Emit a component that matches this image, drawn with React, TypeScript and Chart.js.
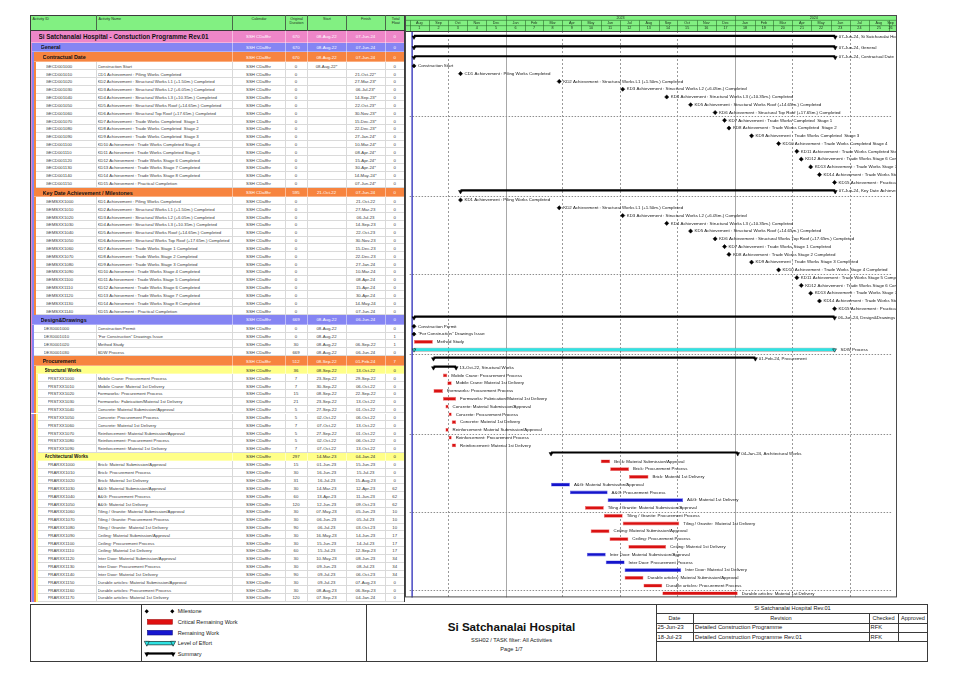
import React, { useEffect, useRef } from "react";
import { Chart, registerables } from "chart.js";

Chart.register(...registerables);

const FONT = '"Liberation Sans", Arial, Helvetica, sans-serif';

/* ---------------- data ---------------- */
const activityIds = [
  "", "", "",
  "GECD001000", "GECD001010", "GECD001020", "GECD001030", "GECD001040", "GECD001050", "GECD001060", "GECD001070",
  "GECD001080", "GECD001090", "GECD001100", "GECD001110", "GECD001120", "GECD001130", "GECD001140", "GECD001150",
  "",
  "GEMSXX1000", "GEMSXX1010", "GEMSXX1020", "GEMSXX1030", "GEMSXX1040", "GEMSXX1050", "GEMSXX1060", "GEMSXX1070",
  "GEMSXX1080", "GEMSXX1090", "GEMSXX1100", "GEMSXX1110", "GEMSXX1120", "GEMSXX1130", "GEMSXX1140",
  "",
  "DEX0001000", "DEX0001010", "DEX0001020", "DEX0001030",
  "", "",
  "PRSTXX1000", "PRSTXX1010", "PRSTXX1020", "PRSTXX1030", "PRSTXX1040", "PRSTXX1050", "PRSTXX1060", "PRSTXX1070",
  "PRSTXX1080", "PRSTXX1090",
  "",
  "PRARXX1000", "PRARXX1010", "PRARXX1020", "PRARXX1030", "PRARXX1040", "PRARXX1050", "PRARXX1060", "PRARXX1070",
  "PRARXX1080", "PRARXX1090", "PRARXX1100", "PRARXX1110", "PRARXX1120", "PRARXX1130", "PRARXX1140", "PRARXX1150",
  "PRARXX1160", "PRARXX1170",
];

const activityNames = [
  "Si Satchanalai Hospital - Constuction Programme Rev.01",
  "General",
  "Contractual Date",
  "Construction Start",
  "CD1 Achievement : Piling Works Completed",
  "KD2 Achievement : Structural Works L1 (+1.50m.) Completed",
  "KD3 Achievement : Structural Works L2 (+6.05m.) Completed",
  "KD4 Achievement : Structural Works L3 (+10.35m.) Completed",
  "KD5 Achievement : Structural Works Roof (+14.65m.) Completed",
  "KD6 Achievement : Structural Top Roof (+17.65m.) Completed",
  "KD7 Achievement : Trade Works Completed  Stage 1",
  "KD8 Achievement : Trade Works Completed  Stage 2",
  "KD9 Achievement : Trade Works Completed  Stage 3",
  "KD10 Achievement : Trade Works Completed Stage 4",
  "KD11 Achievement : Trade Works Completed Stage 5",
  "KD12 Achievement : Trade Works Stage 6 Completed",
  "KD13 Achievement : Trade Works Stage 7 Completed",
  "KD14 Achievement : Trade Works Stage 8 Completed",
  "KD15 Achievement : Practical Completion",
  "Key Date Achievement / Milestones",
  "KD1 Achievement : Piling Works Completed",
  "KD2 Achievement : Structural Works L1 (+1.50m.) Completed",
  "KD3 Achievement : Structural Works L2 (+6.05m.) Completed",
  "KD4 Achievement : Structural Works L3 (+10.35m.) Completed",
  "KD5 Achievement : Structural Works Roof (+14.65m.) Completed",
  "KD6 Achievement : Structural Works Top Roof (+17.65m.) Completed",
  "KD7 Achievement : Trade Works Stage 1 Completed",
  "KD8 Achievement : Trade Works Stage 2 Completed",
  "KD9 Achievement : Trade Works Stage 3 Completed",
  "KD10 Achievement : Trade Works Stage 4 Completed",
  "KD11 Achievement : Trade Works Stage 5 Completed",
  "KD12 Achievement : Trade Works Stage 6 Completed",
  "KD13 Achievement : Trade Works Stage 7 Completed",
  "KD14 Achievement : Trade Works Stage 8 Completed",
  "KD15 Achievement : Practical Completion",
  "Design&Drawings",
  "Construction Permit",
  "\"For Construction\" Drawings Issue",
  "Method Study",
  "SDW Process",
  "Procurement",
  "Structural Works",
  "Mobile Crane: Procurement Process",
  "Mobile Crane: Material 1st Delivery",
  "Formworks: Procurement Process",
  "Formworks: Fabrication/Material 1st Delivery",
  "Concrete: Material Submission/Approval",
  "Concrete: Procurement Process",
  "Concrete: Material 1st Delivery",
  "Reinforcement: Material Submission/Approval",
  "Reinforcement: Procurement Process",
  "Reinforcement: Material 1st Delivery",
  "Architectural Works",
  "Brick: Material Submission/Approval",
  "Brick: Procurement Process",
  "Brick: Material 1st Delivery",
  "A&G: Material Submission/Approval",
  "A&G: Procurement Process",
  "A&G: Material 1st Delivery",
  "Tiling / Granite: Material Submission/Approval",
  "Tiling / Granite: Procurement Process",
  "Tiling / Granite:  Material 1st Delivery",
  "Ceiling: Material Submission/Approval",
  "Ceiling: Procurement Process",
  "Ceiling: Material 1st Delivery",
  "Inter Door: Material Submission/Approval",
  "Inter Door: Procurement Process",
  "Inter Door: Material 1st Delivery",
  "Durable articles: Material Submission/Approval",
  "Durable articles: Procurement Process",
  "Durable articles: Material 1st Delivery",
];

// 1 = project, 2..4 = WBS levels, 0 = activity
const rowLevels = [
  1, 2, 3,
  0, 0, 0, 0, 0, 0, 0, 0, 0, 0, 0, 0, 0, 0, 0, 0,
  3,
  0, 0, 0, 0, 0, 0, 0, 0, 0, 0, 0, 0, 0, 0, 0,
  2,
  0, 0, 0, 0,
  3, 4,
  0, 0, 0, 0, 0, 0, 0, 0, 0, 0,
  4,
  0, 0, 0, 0, 0, 0, 0, 0, 0, 0, 0, 0, 0, 0, 0, 0, 0, 0,
];

const S = "summary", M = "milestone", C = "critical", R = "remaining", L = "effort";
const barTypes = [
  S, S, S,
  M, M, M, M, M, M, M, M, M, M, M, M, M, M, M, M,
  S,
  M, M, M, M, M, M, M, M, M, M, M, M, M, M, M,
  S,
  M, M, C, L,
  S, S,
  C, C, C, C, C, C, C, C, C, C,
  S,
  C, C, C, R, R, R, C, C, C, C, C, C, R, R, R, C, C, C,
];

const calendarName = "SSH CDa8hr";

const origDurations = [
  670, 670, 670,
  0, 0, 0, 0, 0, 0, 0, 0, 0, 0, 0, 0, 0, 0, 0, 0,
  595,
  0, 0, 0, 0, 0, 0, 0, 0, 0, 0, 0, 0, 0, 0, 0,
  669,
  0, 0, 30, 669,
  512, 36,
  7, 7, 15, 21, 5, 5, 7, 5, 5, 7,
  297,
  15, 30, 31, 30, 60, 120, 30, 30, 90, 30, 30, 60, 30, 30, 90, 30, 30, 120,
];

const startDates = [
  "08-Aug-22", "08-Aug-22", "08-Aug-22",
  "08-Aug-22*", "", "", "", "", "", "", "", "", "", "", "", "", "", "", "",
  "21-Oct-22",
  "", "", "", "", "", "", "", "", "", "", "", "", "", "", "",
  "08-Aug-22",
  "08-Aug-22", "08-Aug-22", "08-Aug-22", "08-Aug-22",
  "08-Sep-22", "08-Sep-22",
  "23-Sep-22", "30-Sep-22", "08-Sep-22", "23-Sep-22", "27-Sep-22", "02-Oct-22", "07-Oct-22", "27-Sep-22", "02-Oct-22", "07-Oct-22",
  "14-Mar-23",
  "01-Jun-23", "16-Jun-23", "16-Jul-23", "14-Mar-23", "13-Apr-23", "12-Jun-23", "07-May-23", "06-Jun-23", "06-Jul-23",
  "16-May-23", "15-Jun-23", "15-Jul-23", "10-May-23", "09-Jun-23", "09-Jul-23", "09-Jul-23", "08-Aug-23", "07-Sep-23",
];

const finishDates = [
  "07-Jun-24", "07-Jun-24", "07-Jun-24",
  "", "21-Oct-22*", "27-Mar-23*", "06-Jul-23*", "14-Sep-23*", "22-Oct-23*", "30-Nov-23*", "15-Dec-23*",
  "22-Dec-23*", "27-Jan-24*", "10-Mar-24*", "08-Apr-24*", "15-Apr-24*", "30-Apr-24*", "14-May-24*", "07-Jun-24*",
  "07-Jun-24",
  "21-Oct-22", "27-Mar-23", "06-Jul-23", "14-Sep-23", "22-Oct-23", "30-Nov-23", "15-Dec-23", "22-Dec-23",
  "27-Jan-24", "10-Mar-24", "08-Apr-24", "15-Apr-24", "30-Apr-24", "14-May-24", "07-Jun-24",
  "06-Jun-24",
  "", "", "06-Sep-22", "06-Jun-24",
  "01-Feb-24", "13-Oct-22",
  "29-Sep-22", "06-Oct-22", "22-Sep-22", "13-Oct-22", "01-Oct-22", "06-Oct-22", "13-Oct-22", "01-Oct-22", "06-Oct-22", "13-Oct-22",
  "04-Jan-24",
  "15-Jun-23", "15-Jul-23", "15-Aug-23", "12-Apr-23", "11-Jun-23", "09-Oct-23", "05-Jun-23", "05-Jul-23", "03-Oct-23",
  "14-Jun-23", "14-Jul-23", "12-Sep-23", "08-Jun-23", "08-Jul-23", "06-Oct-23", "07-Aug-23", "06-Sep-23", "04-Jan-24",
];

const totalFloats = [
  0, 0, 0,
  0, 0, 0, 0, 0, 0, 0, 0, 0, 0, 0, 0, 0, 0, 0, 0,
  0,
  0, 0, 0, 0, 0, 0, 0, 0, 0, 0, 0, 0, 0, 0, 0,
  0,
  0, 1, 1, 0,
  7, 0,
  0, 0, 0, 0, 0, 0, 0, 0, 0, 0,
  0,
  0, 0, 0, 62, 62, 62, 10, 10, 10, 17, 17, 17, 34, 34, 34, 0, 0, 0,
];

const tableColumns = ["Activity ID", "Activity Name", "Calendar", "Original Duration", "Start", "Finish", "Total Float"];
const monthNames = ["Jan", "Feb", "Mar", "Apr", "May", "Jun", "Jul", "Aug", "Sep", "Oct", "Nov", "Dec"];
const timelineStart = "01-Aug-22";
const timelineEnd = "07-Sep-24";
const dataDate = "05-Aug-22";

const legendLabels = ["Milestone", "Critical Remaining Work", "Remaining Work", "Level of Effort", "Summary"];
const projectTitle = "Si Satchanalai Hospital";
const layoutSubtitle = "SSH02 / TASK filter: All Activities";
const pageLabel = "Page 1/7";
const revisionHeader = "Si Satchanalai Hospital Rev.01";
const revisionColumns = ["Date", "Revision", "Checked", "Approved"];
const revisionDates = ["25-Jun-23", "18-Jul-23"];
const revisionTexts = ["Detailed Construction Programme", "Detailed Construction Programme Rev.01"];
const revisionChecked = ["RFK", "RFK"];

/* ---------------- helpers ---------------- */
const MONTH_INDEX: Record<string, number> = {};
monthNames.forEach((m, i) => (MONTH_INDEX[m] = i));
const DAY = 86400000;
function toUTC(s: string) {
  const [d, m, y] = s.replace("*", "").trim().split("-");
  return Date.UTC(2000 + Number(y), MONTH_INDEX[m], Number(d));
}
const originUTC = toUTC(timelineStart);
const dayOf = (s: string) => (toUTC(s) - originUTC) / DAY;
const X_MAX = dayOf(timelineEnd);

/* ---------------- layout / style ---------------- */
const ROW_H: Record<number, number> = { 0: 7.83, 1: 11.5, 2: 9.9, 3: 9.9, 4: 8.3 };
const LEVEL_COLORS: Record<number, string> = { 1: "#EE86C8", 2: "#8585F3", 3: "#F7843F", 4: "#FFFF88" };
const rowTop: number[] = [];
let acc = 0;
rowLevels.forEach((l) => {
  rowTop.push(acc);
  acc += ROW_H[l];
});
const HEAD_H = 16;
const CANVAS_W = 492;
const CANVAS_H = Math.round(HEAD_H + acc);
const Y_MAX = CANVAS_H - HEAD_H;
const rowMid = rowTop.map((t, i) => t + ROW_H[rowLevels[i]] / 2);

const rowAncestors: string[][] = [];
{
  const stack: string[] = [];
  rowLevels.forEach((l) => {
    if (l > 0) {
      stack.length = l - 1;
      rowAncestors.push(stack.slice());
      stack.push(LEVEL_COLORS[l]);
    } else rowAncestors.push(stack.slice());
  });
}

const COLX = [30, 96, 232, 285, 307, 346, 385, 404.5];
const TABLE_TOP = 31;
const GANTT_LEFT = 405;

/* ---------------- chart ---------------- */
function spanOf(i: number) {
  const s = startDates[i] ? dayOf(startDates[i]) : dayOf(finishDates[i]);
  const e = finishDates[i] ? dayOf(finishDates[i]) + 1 : s;
  return [s, e];
}
function milestoneAt(i: number) {
  return finishDates[i] ? dayOf(finishDates[i]) : dayOf(startDates[i]);
}
const idx = (t: string) => barTypes.map((b, i) => (b === t ? i : -1)).filter((i) => i >= 0);

function buildConfig() {
  const summaryRows = idx(S);
  const effortRows = idx(L);
  const barData = (t: string) => idx(t).map((i) => ({ x: spanOf(i), y: rowMid[i] }));

  const ganttPlugin = {
    id: "gantt",
    beforeDatasetsDraw(chart: any) {
      const { ctx, chartArea: a, scales } = chart;
      const xs = scales.x, ys = scales.y;
      ctx.save();
      // quarter & year lines
      const od = new Date(originUTC);
      for (let k = 1; ; k++) {
        const t = Date.UTC(od.getUTCFullYear(), od.getUTCMonth() + k, 1);
        const d = (t - originUTC) / DAY;
        if (d >= X_MAX) break;
        const mo = new Date(t).getUTCMonth();
        if (mo % 3 !== 0) continue;
        const px = Math.round(xs.getPixelForValue(d)) + 0.5;
        ctx.beginPath();
        ctx.strokeStyle = mo === 0 ? "#A8A8A8" : "#9A9A9A";
        ctx.lineWidth = 1;
        ctx.setLineDash(mo === 0 ? [] : [2, 2]);
        ctx.moveTo(px, a.top);
        ctx.lineTo(px, a.bottom);
        ctx.stroke();
      }
      // horizontal dotted lines every 10 rows
      ctx.setLineDash([1.5, 1.5]);
      ctx.strokeStyle = "#8E8E8E";
      for (let r = 10; r < rowTop.length; r += 10) {
        const py = Math.round(ys.getPixelForValue(rowTop[r])) + 0.5;
        ctx.beginPath();
        ctx.moveTo(a.left, py);
        ctx.lineTo(a.right, py);
        ctx.stroke();
      }
      ctx.setLineDash([]);
      // data date
      const dd = xs.getPixelForValue(dayOf(dataDate));
      ctx.strokeStyle = "#2B2BB8";
      ctx.lineWidth = 1.3;
      ctx.beginPath();
      ctx.moveTo(dd, a.top);
      ctx.lineTo(dd, a.bottom);
      ctx.stroke();
      ctx.restore();
    },
    afterDatasetsDraw(chart: any) {
      const { ctx, chartArea: a, scales } = chart;
      const xs = scales.x, ys = scales.y;
      ctx.save();
      // bar labels
      ctx.font = `4.4px ${FONT}`;
      ctx.textBaseline = "middle";
      ctx.fillStyle = "#141414";
      barTypes.forEach((t, i) => {
        const py = ys.getPixelForValue(rowMid[i]);
        let px: number, text: string;
        if (t === M) {
          px = xs.getPixelForValue(milestoneAt(i)) + 4;
          text = activityNames[i];
        } else if (t === S) {
          px = xs.getPixelForValue(spanOf(i)[1]) + 3.5;
          text = `${finishDates[i]}, ${activityNames[i]}`;
        } else {
          px = xs.getPixelForValue(spanOf(i)[1]) + (t === L ? 6 : 4);
          text = activityNames[i];
        }
        ctx.fillText(text, px, py);
      });

      // timescale header
      const w = chart.width;
      const h1 = HEAD_H / 3;
      ctx.fillStyle = "#82F082";
      ctx.fillRect(0, 0, w, HEAD_H);
      ctx.strokeStyle = "#2E6B2E";
      ctx.lineWidth = 0.6;
      ctx.beginPath();
      ctx.moveTo(0, h1); ctx.lineTo(w, h1);
      ctx.moveTo(0, 2 * h1); ctx.lineTo(w, 2 * h1);
      ctx.stroke();
      ctx.fillStyle = "#1C2A1C";
      ctx.textAlign = "center";
      ctx.font = `3.7px ${FONT}`;
      const od = new Date(originUTC);
      for (let k = 0; ; k++) {
        const t0 = Date.UTC(od.getUTCFullYear(), od.getUTCMonth() + k, 1);
        const t1 = Date.UTC(od.getUTCFullYear(), od.getUTCMonth() + k + 1, 1);
        const d0 = (t0 - originUTC) / DAY;
        if (d0 >= X_MAX) break;
        const d1 = Math.min((t1 - originUTC) / DAY, X_MAX);
        const p0 = xs.getPixelForValue(d0), p1 = xs.getPixelForValue(d1);
        const mo = new Date(t0).getUTCMonth();
        ctx.beginPath();
        ctx.moveTo(Math.round(p0) + 0.5, mo === 0 ? 0 : h1);
        ctx.lineTo(Math.round(p0) + 0.5, HEAD_H);
        ctx.stroke();
        ctx.fillText(monthNames[mo], (p0 + p1) / 2, h1 * 1.5);
        ctx.fillText(String(k + 1), (p0 + p1) / 2, h1 * 2.5);
        if (mo === 0) {
          const y1 = Math.min((Date.UTC(new Date(t0).getUTCFullYear() + 1, 0, 1) - originUTC) / DAY, X_MAX);
          ctx.fillText(String(new Date(t0).getUTCFullYear()), (p0 + xs.getPixelForValue(y1)) / 2, h1 * 0.5);
        }
      }
      ctx.strokeStyle = "#3A3A3A";
      ctx.lineWidth = 1;
      ctx.strokeRect(0.5, 0.5, w - 1, HEAD_H);
      ctx.strokeStyle = "#4A4A4A";
      ctx.strokeRect(0.5, 0.5, w - 1, a.bottom - 1);
      ctx.restore();
    },
  };

  return {
    type: "bar",
    data: {
      datasets: [
        {
          type: "bar",
          label: "Summary",
          data: summaryRows.map((i) => ({ x: spanOf(i), y: rowMid[i] - 0.9 })),
          backgroundColor: "#000000",
          maxBarThickness: 2.2,
          grouped: false,
          order: 2,
        },
        {
          type: "scatter",
          label: "Summary ends",
          data: summaryRows.flatMap((i) => spanOf(i).map((v) => ({ x: v, y: rowMid[i] + 0.4 }))),
          pointStyle: "triangle",
          rotation: 180,
          pointRadius: 2.3,
          pointBackgroundColor: "#000000",
          pointBorderColor: "#000000",
          pointBorderWidth: 0.5,
          order: 1,
        },
        {
          type: "bar",
          label: "Critical Remaining Work",
          data: barData(C),
          backgroundColor: "#DA1212",
          borderColor: "#F07474",
          borderWidth: 0.6,
          borderSkipped: false,
          maxBarThickness: 3.8,
          grouped: false,
          order: 2,
        },
        {
          type: "bar",
          label: "Remaining Work",
          data: barData(R),
          backgroundColor: "#1414CC",
          borderColor: "#5A5AE8",
          borderWidth: 0.6,
          borderSkipped: false,
          maxBarThickness: 3.8,
          grouped: false,
          order: 2,
        },
        {
          type: "bar",
          label: "Level of Effort",
          data: barData(L),
          backgroundColor: "#2FE3E3",
          borderColor: "#1A1A1A",
          borderWidth: 0.6,
          borderSkipped: false,
          maxBarThickness: 3.8,
          grouped: false,
          order: 2,
        },
        {
          type: "scatter",
          label: "Level of Effort ends",
          data: effortRows.flatMap((i) => spanOf(i).map((v) => ({ x: v, y: rowMid[i] + 0.3 }))),
          pointStyle: "triangle",
          rotation: 180,
          pointRadius: 2.2,
          pointBackgroundColor: "#2FE3E3",
          pointBorderColor: "#1A1A1A",
          pointBorderWidth: 0.6,
          order: 1,
        },
        {
          type: "scatter",
          label: "Milestone",
          data: idx(M).map((i) => ({ x: milestoneAt(i), y: rowMid[i] })),
          pointStyle: "rectRot",
          pointRadius: 2.1,
          pointBackgroundColor: "#000000",
          pointBorderColor: "#000000",
          pointBorderWidth: 0.5,
          order: 0,
        },
      ],
    },
    options: {
      animation: false,
      responsive: false,
      indexAxis: "y",
      events: [],
      layout: { padding: { top: HEAD_H, left: 0, right: 0, bottom: 0 } },
      plugins: { legend: { display: false }, tooltip: { enabled: false } },
      scales: {
        x: { type: "linear", min: 0, max: X_MAX, display: false, offset: false },
        y: { type: "linear", min: 0, max: Y_MAX, reverse: true, display: false, offset: false },
      },
    },
    plugins: [ganttPlugin],
  };
}

/* ---------------- components ---------------- */
const abs = (left: number, top: number, width: number, height: number, extra: any = {}) => ({
  position: "absolute" as const,
  left,
  top,
  width,
  height,
  boxSizing: "border-box" as const,
  ...extra,
});

function Cell(props: { left: number; width: number; text: any; align?: string; style?: any }) {
  const { left, width, text, align = "center", style = {} } = props;
  return (
    <div
      style={{
        position: "absolute",
        left,
        width,
        top: 0,
        height: "100%",
        display: "flex",
        alignItems: "center",
        justifyContent: align === "left" ? "flex-start" : "center",
        overflow: "hidden",
        whiteSpace: "pre",
        ...style,
      }}
    >
      {text}
    </div>
  );
}

function TableRow({ i }: { i: number }) {
  const lvl = rowLevels[i];
  const h = ROW_H[lvl];
  const anc = rowAncestors[i];
  const indent = 30 + 2 * anc.length;
  const isSummary = lvl > 0;
  const bg = isSummary ? LEVEL_COLORS[lvl] : "#FFFFFF";
  const valColor = lvl === 4 ? "#2A2A2A" : isSummary ? "#FFFFFF" : "#3A3A3A";
  const sepColor = isSummary ? "rgba(255,255,255,0.45)" : "#D9D9D9";
  const nameFont = lvl === 1 ? 6.3 : lvl === 4 ? 4.6 : 5.4;
  const valFont = 4.3;
  return (
    <div style={abs(0, TABLE_TOP + rowTop[i], 405, h)}>
      {anc.map((c, k) => (
        <div key={k} style={abs(30 + 2 * k, 0, 2, h, { background: c })} />
      ))}
      <div style={abs(indent, 0, COLX[7] - indent, h, { background: bg, borderBottom: `1px solid ${isSummary ? "rgba(255,255,255,0.35)" : "#DADADA"}` })} />
      {COLX.slice(isSummary ? 2 : 1, 7).map((x) => (
        <div key={x} style={abs(x, 0, 1, h, { background: sepColor })} />
      ))}
      {isSummary ? (
        <Cell left={indent + 8.5} width={COLX[2] - indent - 9} text={activityNames[i]} align="left"
          style={{ fontSize: nameFont, fontWeight: "bold", color: "#121212" }} />
      ) : (
        <>
          <Cell left={indent + 9.5} width={COLX[1] - indent - 10} text={activityIds[i]} align="left"
            style={{ fontSize: valFont, color: valColor }} />
          <Cell left={COLX[1] + 1.5} width={COLX[2] - COLX[1] - 2} text={activityNames[i]} align="left"
            style={{ fontSize: valFont, color: valColor }} />
        </>
      )}
      <Cell left={COLX[2]} width={COLX[3] - COLX[2]} text={calendarName} style={{ fontSize: valFont, color: valColor }} />
      <Cell left={COLX[3]} width={COLX[4] - COLX[3]} text={String(origDurations[i])} style={{ fontSize: valFont, color: valColor }} />
      <Cell left={COLX[4]} width={COLX[5] - COLX[4]} text={startDates[i]} style={{ fontSize: valFont, color: valColor }} />
      <Cell left={COLX[5]} width={COLX[6] - COLX[5]} text={finishDates[i]} style={{ fontSize: valFont, color: valColor }} />
      <Cell left={COLX[6]} width={COLX[7] - COLX[6]} text={String(totalFloats[i])} style={{ fontSize: valFont, color: valColor }} />
    </div>
  );
}

function TableHeader() {
  const lines = tableColumns.map((c) => (c === "Original Duration" ? "Original\nDuration" : c === "Total Float" ? "Total\nFloat" : c));
  return (
    <div style={abs(30, 15, 375, 16, { background: "#82F082", border: "1px solid #3C3C3C" })}>
      {lines.map((t, k) => (
        <div
          key={k}
          style={abs(COLX[k] - 30, -1, COLX[k + 1] - COLX[k], 16, {
            borderRight: k < 6 ? "1px solid #4A6A4A" : "none",
            fontSize: 3.7,
            color: "#203020",
            whiteSpace: "pre",
            lineHeight: "4.2px",
            paddingTop: 2,
            paddingLeft: k < 2 ? 1.5 : 0,
            textAlign: k < 2 ? "left" : "center",
          })}
        >
          {t}
        </div>
      ))}
    </div>
  );
}

function BottomBlock() {
  const line = "#3A3A3A";
  const legendY = [611.3, 622, 632.7, 643.3, 654];
  return (
    <>
      <div style={abs(30, 604, 898, 57.5, { border: `1px solid ${line}`, background: "#FFFFFF" })} />
      <div style={abs(141, 604, 1, 57.5, { background: line })} />
      <div style={abs(366, 604, 1, 57.5, { background: line })} />
      <div style={abs(656, 604, 1, 57.5, { background: line })} />
      {/* legend symbols */}
      <svg style={abs(141, 604, 225, 57)} width={225} height={57}>
        <polygon points="5.7,5.2 7.8,7.3 5.7,9.4 3.6,7.3" fill="#000" />
        <polygon points="31.3,5.2 33.4,7.3 31.3,9.4 29.2,7.3" fill="#000" />
        <rect x={6.5} y={15.6} width={24.8} height={4.6} fill="#E01010" stroke="#A00000" strokeWidth={0.6} />
        <rect x={6.5} y={26.4} width={24.8} height={4.6} fill="#1616D0" stroke="#0A0A80" strokeWidth={0.6} />
        <rect x={5.5} y={37.3} width={26.6} height={3.6} fill="#2FE3E3" stroke="#111" strokeWidth={0.6} />
        <polygon points="3.3,37.3 8.3,37.3 5.8,42.2" fill="#2FE3E3" stroke="#111" strokeWidth={0.6} />
        <polygon points="29.6,37.3 34.6,37.3 32.1,42.2" fill="#2FE3E3" stroke="#111" strokeWidth={0.6} />
        <rect x={5.5} y={48.4} width={26.6} height={2.2} fill="#000" />
        <polygon points="3.3,48.4 8.3,48.4 5.8,53" fill="#000" />
        <polygon points="29.6,48.4 34.6,48.4 32.1,53" fill="#000" />
      </svg>
      {legendLabels.map((t, k) => (
        <div key={t} style={abs(177.7, legendY[k] - 4, 150, 8, { fontSize: 5.6, lineHeight: "8px", color: "#222", whiteSpace: "nowrap" })}>
          {t}
        </div>
      ))}
      {/* title block */}
      <div style={abs(367, 619, 289, 16, { fontSize: 11.6, fontWeight: "bold", textAlign: "center", lineHeight: "16px", color: "#111" })}>
        {projectTitle}
      </div>
      <div style={abs(367, 636, 289, 8, { fontSize: 5.6, textAlign: "center", lineHeight: "8px", color: "#222" })}>{layoutSubtitle}</div>
      <div style={abs(367, 645, 289, 8, { fontSize: 5.6, textAlign: "center", lineHeight: "8px", color: "#222" })}>{pageLabel}</div>
      {/* revision table */}
      <div style={abs(657, 604, 271, 9, { fontSize: 5.6, textAlign: "center", lineHeight: "9px", color: "#222" })}>{revisionHeader}</div>
      {[613, 622.5, 632, 641].map((y) => (
        <div key={y} style={abs(656, y, 272, 1, { background: line })} />
      ))}
      {[693, 869, 898].map((x) => (
        <div key={x} style={abs(x, 613, 1, 28.5, { background: line })} />
      ))}
      {revisionColumns.map((t, k) => {
        const xs = [656, 693, 869, 898, 928];
        return (
          <div key={t} style={abs(xs[k], 613.5, xs[k + 1] - xs[k], 9, { fontSize: 5.6, textAlign: "center", lineHeight: "9px", color: "#222" })}>
            {t}
          </div>
        );
      })}
      {revisionDates.map((d, r) => (
        <React.Fragment key={d}>
          <div style={abs(657.5, 623 + r * 9.5, 36, 9, { fontSize: 5.8, lineHeight: "9px", color: "#222" })}>{d}</div>
          <div style={abs(695, 623 + r * 9.5, 172, 9, { fontSize: 5.8, lineHeight: "9px", color: "#222" })}>{revisionTexts[r]}</div>
          <div style={abs(870.5, 623 + r * 9.5, 28, 9, { fontSize: 5.8, lineHeight: "9px", color: "#222" })}>{revisionChecked[r]}</div>
        </React.Fragment>
      ))}
    </>
  );
}

export default function App() {
  const ref = useRef<HTMLCanvasElement | null>(null);
  useEffect(() => {
    if (!ref.current) return;
    const chart = new Chart(ref.current, buildConfig() as any);
    return () => chart.destroy();
  }, []);
  return (
    <div style={{ position: "absolute", left: 0, top: 0, width: 960, height: 678, background: "#FFFFFF", fontFamily: FONT, overflow: "hidden" }}>
      <TableHeader />
      {rowLevels.map((_, i) => (
        <TableRow key={i} i={i} />
      ))}
      <div style={abs(30, 15, 1, TABLE_TOP - 15 + Y_MAX, { background: "#3C3C3C" })} />
      <div style={abs(404, 15, 1, TABLE_TOP - 15 + Y_MAX, { background: "#3C3C3C" })} />
      <canvas
        ref={ref}
        width={CANVAS_W}
        height={CANVAS_H}
        style={{ position: "absolute", left: GANTT_LEFT, top: 15, width: CANVAS_W, height: CANVAS_H }}
      />
      <BottomBlock />
    </div>
  );
}
